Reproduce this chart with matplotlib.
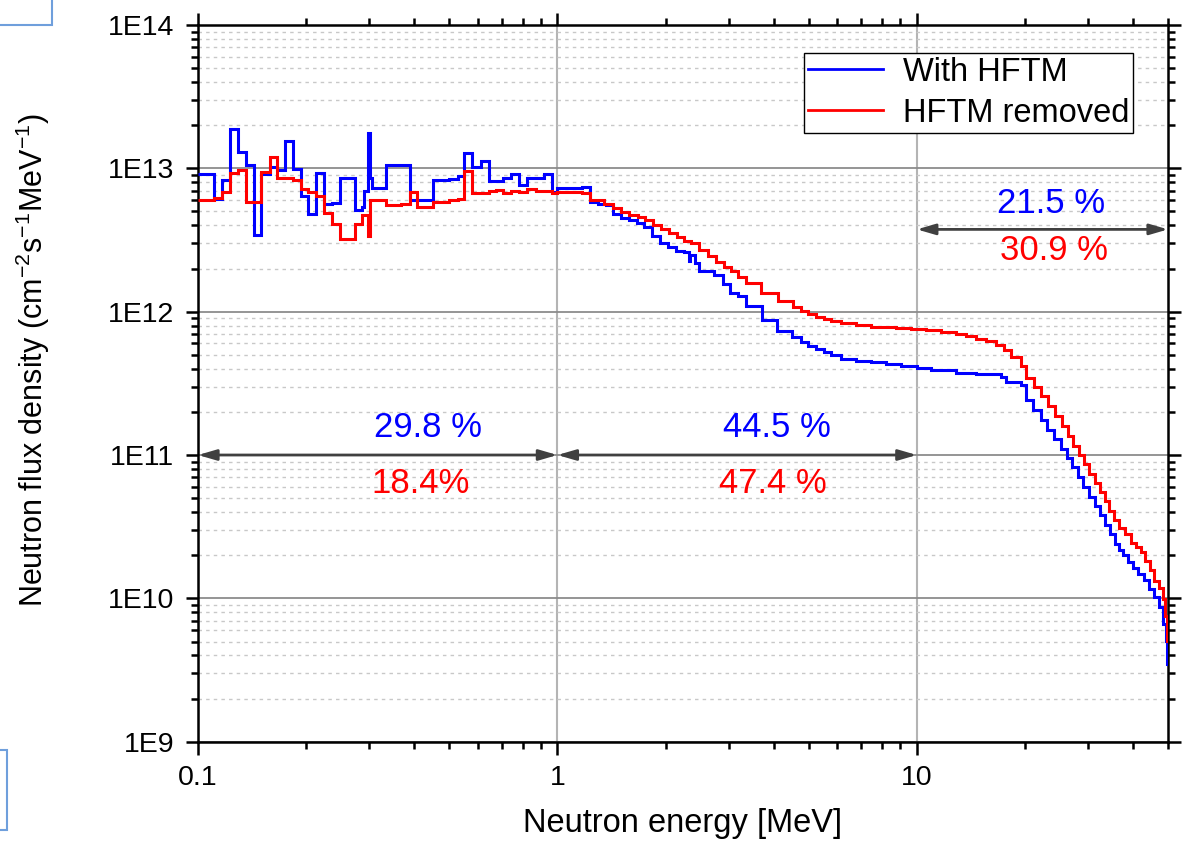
import matplotlib
matplotlib.use("Agg")
import matplotlib.pyplot as plt
from matplotlib.lines import Line2D
from matplotlib.patches import Rectangle
from matplotlib.ticker import LogLocator, FixedLocator, FuncFormatter, NullFormatter
import math

plt.rcParams["font.family"] = ["Liberation Sans", "DejaVu Sans"]
plt.rcParams["mathtext.fontset"] = "custom"
plt.rcParams["mathtext.rm"] = "Liberation Sans"
plt.rcParams["mathtext.default"] = "regular"

# neutron spectrum, bin edges [MeV] and flux density per bin
blue_edges = [0.1, 0.1111, 0.1168, 0.1224, 0.1294, 0.1356, 0.1430, 0.1502, 0.1591, 0.1662,
              0.1745, 0.1837, 0.1930, 0.2028, 0.2125, 0.2241, 0.2354, 0.2478, 0.2734, 0.2867,
              0.2900, 0.2972, 0.3010, 0.3043, 0.3329, 0.3681, 0.3890, 0.4518, 0.4995, 0.5273,
              0.5500, 0.5776, 0.6122, 0.6457, 0.7052, 0.7421, 0.7825, 0.8222, 0.8711, 0.9154,
              0.9634, 1.0,
              1.170, 1.232, 1.294, 1.365, 1.430, 1.503, 1.585, 1.665, 1.745, 1.834,
              1.933, 2.028, 2.138, 2.246, 2.320, 2.345, 2.415, 2.483, 2.734, 2.885,
              3.029, 3.189, 3.350, 3.706, 4.088, 4.491, 4.768, 4.977, 5.248, 5.525,
              5.779, 6.162, 6.784, 7.469, 8.226, 9.054, 10.0, 10.97, 12.88, 14.64,
              17.19, 17.76, 19.55, 20.18, 21.07, 22.13, 23.09, 24.11, 25.16, 26.09,
              27.06, 28.12, 29.04, 30.10, 31.28, 32.30, 33.36, 34.44, 35.56, 36.48,
              37.53, 38.75, 40.02, 41.33, 42.95, 44.23, 45.79, 47.16, 48.5, 49.3,
              49.7, 50.0]
blue_flux = [9.2e12, 6.1e12, 8.3e12, 1.87e13, 1.29e13, 1.05e13, 3.4e12, 9.1e12, 1.02e13, 9.75e12,
             1.55e13, 9.95e12, 6.4e12, 4.8e12, 9.3e12, 5.6e12, 5.75e12, 8.6e12, 5.1e12, 5.4e12,
             6.9e12, 1.75e13, 8.6e12, 7.3e12, 1.05e13, 1.06e13, 6.0e12, 8.3e12, 8.4e12, 8.85e12,
             1.27e13, 1.02e13, 1.13e13, 8.1e12, 8.6e12, 9.1e12, 7.7e12, 8.5e12, 8.6e12, 9.2e12,
             6.85e12,
             7.33e12, 7.45e12, 5.86e12, 5.67e12, 5.53e12, 4.79e12, 4.53e12, 4.35e12, 4.18e12, 3.92e12,
             3.38e12, 3.03e12, 2.83e12, 2.66e12, 2.59e12, 2.26e12, 2.5e12, 2.17e12, 1.93e12, 1.81e12,
             1.56e12, 1.35e12, 1.29e12, 1.10e12, 8.74e11, 7.36e11, 6.61e11, 6.1e11, 5.78e11, 5.48e11,
             5.25e11, 5.0e11, 4.71e11, 4.54e11, 4.45e11, 4.31e11, 4.19e11, 4.07e11, 3.91e11, 3.76e11,
             3.65e11, 3.51e11, 3.24e11, 3.07e11, 2.41e11, 2.05e11, 1.75e11, 1.5e11, 1.30e11, 1.11e11,
             9.6e10, 8.25e10, 7.02e10, 5.98e10, 5.09e10, 4.39e10, 3.8e10, 3.23e10, 2.83e10, 2.41e10,
             2.16e10, 2.0e10, 1.79e10, 1.64e10, 1.49e10, 1.34e10, 1.17e10, 1.02e10, 8.69e9, 6.6e9,
             5.06e9, 3.5e9]

red_edges = [0.1, 0.1111, 0.1168, 0.1224, 0.1294, 0.1356, 0.1430, 0.1502, 0.1591, 0.1662,
             0.1745, 0.1837, 0.1930, 0.2028, 0.2125, 0.2241, 0.2354, 0.2478, 0.2734, 0.2867,
             0.2900, 0.2972, 0.3010, 0.3043, 0.3329, 0.3681, 0.3890, 0.4079, 0.4518, 0.4995,
             0.5273, 0.5500, 0.5776, 0.6122, 0.6457, 0.6742, 0.7052, 0.7421, 0.7825, 0.8222,
             0.8711, 0.9154, 0.9634, 1.0,
             1.170, 1.232, 1.350, 1.425, 1.503, 1.585, 1.673, 1.757, 1.842, 1.943,
             2.048, 2.152, 2.256, 2.354, 2.474, 2.620, 2.763, 2.914, 3.043, 3.189,
             3.350, 3.689, 4.106, 4.521, 4.768, 4.977, 5.248, 5.525, 5.779, 6.162,
             6.784, 7.469, 8.226, 8.768, 9.654, 10.63, 11.70, 12.88, 13.74, 14.64,
             15.62, 16.65, 17.52, 18.33, 19.55, 20.18, 21.21, 22.13, 23.20, 24.20,
             25.27, 26.26, 27.23, 28.22, 29.22, 30.10, 31.28, 32.30, 33.36, 34.30,
             35.42, 36.58, 37.92, 39.33, 40.61, 42.02, 43.11, 44.52, 45.8, 47.3,
             48.3, 49.1, 49.75, 50.0]
red_flux = [6.0e12, 6.25e12, 6.8e12, 9.3e12, 9.7e12, 5.8e12, 5.8e12, 9.5e12, 1.19e13, 8.6e12,
            8.6e12, 8.3e12, 7.15e12, 6.85e12, 6.4e12, 4.9e12, 4.1e12, 3.2e12, 4.07e12, 4.75e12,
            4.75e12, 3.35e12, 6.0e12, 6.0e12, 5.56e12, 5.67e12, 6.85e12, 5.4e12, 5.86e12, 6.0e12,
            6.15e12, 9.6e12, 6.77e12, 6.77e12, 6.95e12, 7.05e12, 6.77e12, 6.95e12, 6.85e12, 7.15e12,
            6.95e12, 6.95e12, 6.77e12,
            6.88e12, 6.77e12, 5.99e12, 5.65e12, 5.27e12, 4.99e12, 4.73e12, 4.56e12, 4.36e12, 4.03e12,
            3.76e12, 3.52e12, 3.30e12, 3.13e12, 3.0e12, 2.70e12, 2.45e12, 2.23e12, 2.06e12, 1.93e12,
            1.75e12, 1.59e12, 1.36e12, 1.19e12, 1.08e12, 1.01e12, 9.6e11, 9.2e11, 8.87e11, 8.54e11,
            8.27e11, 8.06e11, 7.84e11, 7.76e11, 7.65e11, 7.56e11, 7.41e11, 7.21e11, 7.03e11, 6.73e11,
            6.49e11, 6.24e11, 5.82e11, 5.37e11, 4.79e11, 4.19e11, 3.47e11, 2.96e11, 2.59e11, 2.20e11,
            1.88e11, 1.60e11, 1.36e11, 1.16e11, 1.0e11, 8.64e10, 7.43e10, 6.33e10, 5.48e10, 4.74e10,
            4.08e10, 3.52e10, 3.12e10, 2.81e10, 2.45e10, 2.29e10, 2.09e10, 1.83e10, 1.58e10, 1.33e10,
            1.19e10, 9.9e9, 7.56e9, 5.06e9]

BLUE = "#0000ff"
RED = "#ff0000"

# energy ranges marked with arrows: (from, to, flux level)
arrow_spans = [(0.1, 1.0, 1e11), (1.0, 10.0, 1e11), (10.0, 50.0, 3.75e12)]
# share of flux in each range
pct_text = ["29.8 %", "18.4%", "44.5 %", "47.4 %", "21.5 %", "30.9 %"]
pct_x = [0.436, 0.417, 4.09, 3.98, 23.7, 24.15]
pct_y = [1.56e11, 6.37e10, 1.56e11, 6.37e10, 5.72e12, 2.69e12]
pct_color = [BLUE, RED, BLUE, RED, BLUE, RED]

fig = plt.figure(figsize=(11.82, 8.44), dpi=100)
ax = fig.add_axes([0.1675, 0.1212, 0.8207, 0.8492])
ax.set_xscale("log")
ax.set_yscale("log")

ax.stairs(blue_flux, blue_edges, baseline=None, color=BLUE, lw=2.2, zorder=3)
ax.stairs(red_flux, red_edges, baseline=None, color=RED, lw=2.2, zorder=3)

ax.set_xlim(0.1, 50)
ax.set_ylim(1e9, 1e14)

ax.xaxis.set_major_locator(FixedLocator([0.1, 1, 10]))
ax.xaxis.set_major_formatter(FuncFormatter(lambda v, p: f"{v:g}"))
ax.xaxis.set_minor_locator(LogLocator(base=10, subs=range(2, 10), numticks=20))
ax.xaxis.set_minor_formatter(NullFormatter())
ax.yaxis.set_major_locator(LogLocator(base=10, numticks=10))
ax.yaxis.set_major_formatter(FuncFormatter(lambda v, p: "1E%d" % round(math.log10(v))))
ax.yaxis.set_minor_locator(LogLocator(base=10, subs=range(2, 10), numticks=20))
ax.yaxis.set_minor_formatter(NullFormatter())

ax.set_axisbelow(True)
ax.grid(True, which="major", axis="y", color="#8c8c8c", lw=1.3)
ax.grid(True, which="minor", axis="y", color="#c8c8c8", lw=1.0, ls=(0, (2.5, 3)))
ax.grid(True, which="major", axis="x", color="#b4b4b4", lw=1.5)

ax.tick_params(which="both", direction="out", top=True, right=True, width=1.8,
               labelsize=20.5, pad=8)
ax.tick_params(which="major", length=9)
ax.tick_params(which="minor", length=5)
for sp in ax.spines.values():
    sp.set_linewidth(1.8)
    sp.set_color("black")

for x0, x1, yv in arrow_spans:
    ax.annotate("", xy=(x1, yv), xytext=(x0, yv),
                arrowprops=dict(arrowstyle="<|-|>,head_length=0.55,head_width=0.16",
                                color="#404040", lw=2, shrinkA=0, shrinkB=0,
                                mutation_scale=20), zorder=4)

for t, x, y, c in zip(pct_text, pct_x, pct_y, pct_color):
    ax.text(x, y, t, color=c, fontsize=25, ha="center", va="center", zorder=5)

ax.set_xlabel("Neutron energy [MeV]", fontsize=23.5)
ax.set_ylabel("Neutron flux density (cm$^{-2}$s$^{-1}$MeV$^{-1}$)", fontsize=22)
ax.xaxis.set_label_coords(0.5, -0.093)
ax.yaxis.set_label_coords(-0.15, 0.533)

handles = [Line2D([], [], color=BLUE, lw=2), Line2D([], [], color=RED, lw=2)]
leg = ax.legend(handles, ["With HFTM", "HFTM removed"], loc="upper right",
                bbox_to_anchor=(0.964, 0.961), borderaxespad=0, fontsize=23.5,
                frameon=True, fancybox=False, edgecolor="black", framealpha=1,
                borderpad=0.12, labelspacing=0.3, handlelength=2.3, handletextpad=0.6)
leg.get_frame().set_linewidth(1.0)

# slide leftovers at the left border
fig.patches.append(Rectangle((-0.01, 0.970), 0.054, 0.04, transform=fig.transFigure,
                             fill=False, ec="#6f9fdc", lw=1.5, figure=fig))
fig.patches.append(Rectangle((-0.01, 0.017), 0.016, 0.094, transform=fig.transFigure,
                             fill=False, ec="#6f9fdc", lw=1.5, figure=fig))

fig.savefig("out.png", dpi=100)
